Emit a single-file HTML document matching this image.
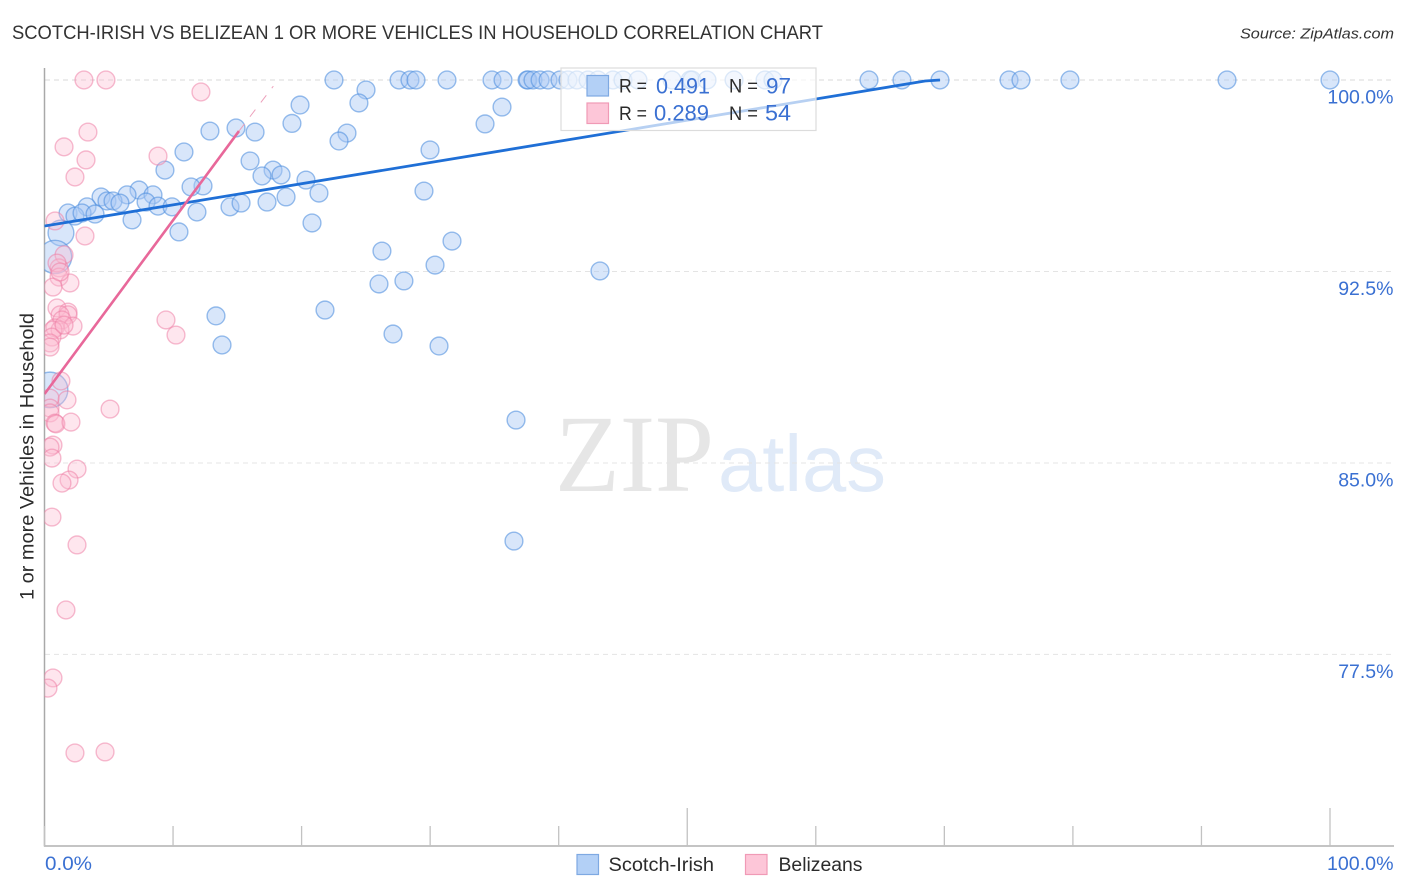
<!DOCTYPE html>
<html lang="en">
<head>
<meta charset="utf-8">
<title>Scotch-Irish vs Belizean 1 or More Vehicles in Household Correlation Chart</title>
<style>
html,body{margin:0;padding:0;background:#fff;}
body{width:1406px;height:892px;overflow:hidden;}
svg{display:block;font-family:"Liberation Sans",sans-serif;}
</style>
</head>
<body>
<svg id="chart" width="1406" height="892" viewBox="0 0 1406 892" xmlns="http://www.w3.org/2000/svg">
  <defs>
    <clipPath id="plot-clip"><rect x="44.5" y="60" width="1350" height="786"/></clipPath>
  </defs>
  <rect x="0" y="0" width="1406" height="892" fill="#fff"/>
  <text x="12" y="39" font-size="19.5" fill="#333" textLength="811" lengthAdjust="spacingAndGlyphs">SCOTCH-IRISH VS BELIZEAN 1 OR MORE VEHICLES IN HOUSEHOLD CORRELATION CHART</text>
  <text x="1394" y="38.5" font-size="15" font-style="italic" fill="#333" text-anchor="end" textLength="154" lengthAdjust="spacingAndGlyphs">Source: ZipAtlas.com</text>
  <g>
    <text x="555" y="491" font-family="'Liberation Serif',serif" font-size="110" fill="#e6e6e6" textLength="159" lengthAdjust="spacingAndGlyphs">ZIP</text>
    <text x="718" y="491" font-size="80" fill="#e0eaf8" textLength="168" lengthAdjust="spacingAndGlyphs">atlas</text>
  </g>
  <g id="grid"></g>
  <g id="axes"></g>
  <g id="marks" clip-path="url(#plot-clip)"></g>
  <text transform="translate(33.5,456.5) rotate(-90)" font-size="19" fill="#2b2b2b" text-anchor="middle" textLength="287" lengthAdjust="spacingAndGlyphs">1 or more Vehicles in Household</text>

  <g>
    <rect x="561" y="68" width="255" height="62.5" fill="#fff" fill-opacity="0.68" stroke="#dcdcdc" stroke-width="1.2"/>
    <rect x="587" y="75.5" width="21.5" height="20.5" fill="#b3d0f6" stroke="#7ea9e2" stroke-width="1.2"/>
    <rect x="587" y="103" width="21.5" height="20.5" fill="#fdc6d8" stroke="#f09ab6" stroke-width="1.2"/>
    <text x="619" y="92.5" font-size="19" fill="#2b2b2b" textLength="28" lengthAdjust="spacingAndGlyphs">R =</text>
    <text x="656" y="93.5" font-size="22" fill="#3a70d2" textLength="54" lengthAdjust="spacingAndGlyphs">0.491</text>
    <text x="729" y="92.5" font-size="19" fill="#2b2b2b" textLength="29" lengthAdjust="spacingAndGlyphs">N =</text>
    <text x="766" y="93.5" font-size="22" fill="#3a70d2" textLength="25" lengthAdjust="spacingAndGlyphs">97</text>
    <text x="619" y="120" font-size="19" fill="#2b2b2b" textLength="28" lengthAdjust="spacingAndGlyphs">R =</text>
    <text x="654" y="120.5" font-size="22" fill="#3a70d2" textLength="55" lengthAdjust="spacingAndGlyphs">0.289</text>
    <text x="729" y="120" font-size="19" fill="#2b2b2b" textLength="29" lengthAdjust="spacingAndGlyphs">N =</text>
    <text x="765" y="120.5" font-size="22" fill="#3a70d2" textLength="26" lengthAdjust="spacingAndGlyphs">54</text>
  </g>

  <g>
    <rect x="577" y="854.5" width="21.5" height="20" fill="#b3d0f6" stroke="#7ea9e2" stroke-width="1.2"/>
    <text x="608.5" y="871" font-size="19" fill="#2b2b2b" textLength="105.5" lengthAdjust="spacingAndGlyphs">Scotch-Irish</text>
    <rect x="745.5" y="854.5" width="21.5" height="20" fill="#fdc6d8" stroke="#f09ab6" stroke-width="1.2"/>
    <text x="778.5" y="871" font-size="19" fill="#2b2b2b" textLength="84" lengthAdjust="spacingAndGlyphs">Belizeans</text>
  </g>
</svg>
<script>
// Chart values: x = share of Belizean / Scotch-Irish population (%), y = households with 1+ vehicles (%)
const yTickValues = [100, 92.5, 85, 77.5];
const yTickLabels = ["100.0%", "92.5%", "85.0%", "77.5%"];
const xTickValues = [0, 10, 20, 30, 40, 50, 60, 70, 80, 90, 100];
const xEdgeLabels = ["0.0%", "100.0%"];

const scotchX = [22.52,27.58,28.43,28.90,31.31,34.81,35.67,37.54,37.61,38.00,38.55,39.17,40.10,40.72,41.42,42.28,43.06,44.22,45.00,46.17,48.82,50.22,50.37,51.54,53.64,56.05,56.67,64.14,66.70,69.66,75.03,75.96,79.77,91.99,100,
  25.01,24.46,19.88,19.25,12.87,14.90,16.38,23.53,22.91,29.99,10.85,15.99,9.37,17.78,16.92,18.40,20.34,21.35,12.33,11.40,29.52,7.35,6.42,4.40,8.44,3.31,4.86,5.33,5.87,7.90,8.83,9.92,11.86,14.43,15.29,17.31,18.79,1.83,2.37,2.92,3.93,6.81,10.46,20.81,31.70,26.25,30.38,27.96,26.02,43.21,21.82,13.34,13.81,27.11,30.69,36.68,36.52,35.59,34.27];
const scotchY = [100,100,100,100,100,100,100,100,100,100,100,100,100,100,100,100,100,100,100,100,100,100,100,100,100,100,100,100,100,100,100,100,100,100,100,
  99.61,99.10,99.02,98.30,98.00,98.12,97.96,97.92,97.61,97.26,97.18,96.83,96.47,96.47,96.24,96.28,96.08,95.57,95.85,95.81,95.65,95.69,95.50,95.42,95.50,95.03,95.26,95.26,95.18,95.22,95.06,95.03,94.83,95.03,95.18,95.22,95.42,94.79,94.67,94.79,94.75,94.52,94.05,94.40,93.69,93.30,92.75,92.13,92.01,92.52,90.99,90.76,89.62,90.05,89.58,86.68,81.94,98.94,98.28];
const scotchLargeX = [1.28, 0.82, 0.43];
const scotchLargeY = [94.01, 93.07, 87.86];
const scotchLargeWeight = [2.1, 3.5, 4.0];

const belizeanX = [3.07,4.78,12.17,3.38,1.52,3.23,2.37,8.83,0.82,3.15,1.52,1.13,0.97,1.13,1.98,0.66,0.97,1.83,1.83,1.21,1.36,2.22,0.82,1.21,0.66,0.58,0.43,0.43,1.28,1.75,0.43,0.43,0.43,0.82,0.89,2.06,5.10,0.66,0.43,0.58,2.53,1.91,1.36,0.58,2.53,9.45,10.23,1.67,0.66,0.27,2.37,4.71,1.21,1.52];
const belizeanY = [100,100,99.53,97.96,97.38,96.87,96.20,97.02,94.48,93.89,93.15,92.64,92.83,92.28,92.05,91.89,91.07,90.91,90.80,90.80,90.60,90.36,90.29,90.21,90.21,89.93,89.70,89.54,88.21,87.47,87.54,87.15,86.96,86.56,86.53,86.60,87.11,85.70,85.62,85.19,84.76,84.33,84.21,82.88,81.79,90.60,90.01,79.24,76.58,76.18,73.64,73.68,92.48,90.40];

const scotchTrendX = [0, 68.5, 69.66];
const scotchTrendY = [94.28, 99.96, 100];
const belizeanTrendX = [0, 15.13];
const belizeanTrendY = [87.7, 98.0];
const belizeanExtensionX = [15.13, 17.8];
const belizeanExtensionY = [98.0, 99.76];

const NS = "http://www.w3.org/2000/svg";
const xScale = v => 44.5 + v * 12.855;
const yScale = v => 80 + (100 - v) * 25.53;
const baseRadius = 8.9;

function make(tag, parent, attrs, text) {
  const el = document.createElementNS(NS, tag);
  for (const k in attrs) el.setAttribute(k, attrs[k]);
  if (text !== undefined) el.textContent = text;
  parent.appendChild(el);
  return el;
}

const grid = document.getElementById("grid");
const axes = document.getElementById("axes");
const marks = document.getElementById("marks");

yTickValues.forEach((v, i) => {
  const line = make("line", grid, {x1: 45, x2: 1393, y1: yScale(v), y2: yScale(v), stroke: i === 0 ? "#d8d8d8" : "#e4e4e4", "stroke-width": 1, "stroke-dasharray": "5 4"});
  
  
  const label = make("text", axes, {x: 1393.5, y: yScale(v) + 23.5, "font-size": 19.5, fill: "#3a70d2", "text-anchor": "end"}, yTickLabels[i]);
  
  
});

const yAxis = make("line", axes, {x1: 44.5, x2: 44.5, y1: 68, y2: 846.5, stroke: "#a9a9a9", "stroke-width": 1.5});


const xAxis = make("line", axes, {x1: 44, x2: 1394, y1: 846, y2: 846, stroke: "#b0b0b0", "stroke-width": 1.5});



xTickValues.forEach(v => {
  const major = v === 50 || v === 100;
  const tick = make("line", axes, {x1: xScale(v), x2: xScale(v), y1: major ? 808 : 826, y2: 846, stroke: "#c2c2c2", "stroke-width": 1.3});
  
  
});

const xLabelLeft = make("text", axes, {x: 45, y: 870, "font-size": 19.5, fill: "#3a70d2", textLength: 47, lengthAdjust: "spacingAndGlyphs"}, xEdgeLabels[0]);


const xLabelRight = make("text", axes, {x: 1327, y: 870, "font-size": 19.5, fill: "#3a70d2", textLength: 66.5, lengthAdjust: "spacingAndGlyphs"}, xEdgeLabels[1]);



function polyPoints(xs, ys) {
  return xs.map((x, i) => xScale(x) + "," + yScale(ys[i])).join(" ");
}

const blueStyle = {fill: "#a9c9f5", "fill-opacity": 0.46, stroke: "#4f8fdf", "stroke-opacity": 0.58, "stroke-width": 1.4};
const pinkStyle = {fill: "#fbb9cf", "fill-opacity": 0.36, stroke: "#ee7fa5", "stroke-opacity": 0.52, "stroke-width": 1.4};

scotchLargeX.forEach((x, i) => {
  const c = make("circle", marks, Object.assign({cx: xScale(x), cy: yScale(scotchLargeY[i]), r: baseRadius * Math.sqrt(scotchLargeWeight[i])}, blueStyle));
  
  
});
scotchX.forEach((x, i) => {
  const c = make("circle", marks, Object.assign({cx: xScale(x), cy: yScale(scotchY[i]), r: baseRadius}, blueStyle));
  
  
});
belizeanX.forEach((x, i) => {
  const c = make("circle", marks, Object.assign({cx: xScale(x), cy: yScale(belizeanY[i]), r: baseRadius}, pinkStyle));
  
  
});

const blueTrend = make("polyline", marks, {points: polyPoints(scotchTrendX, scotchTrendY), fill: "none", stroke: "#1f6fd6", "stroke-width": 2.8});


const pinkTrend = make("polyline", marks, {points: polyPoints(belizeanTrendX, belizeanTrendY), fill: "none", stroke: "#e8689a", "stroke-width": 2.6});


const pinkExt = make("polyline", marks, {points: polyPoints(belizeanExtensionX, belizeanExtensionY), fill: "none", stroke: "#eda0bb", "stroke-width": 1, "stroke-dasharray": "9 9"});


</script>
</body>
</html>
